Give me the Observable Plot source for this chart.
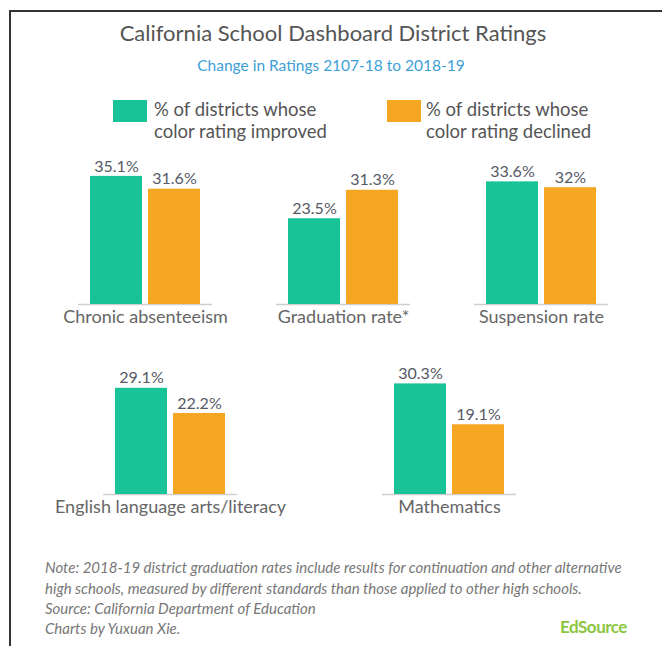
<!DOCTYPE html>
<html>
<head>
<meta charset="utf-8">
<script src="https://cdn.jsdelivr.net/npm/d3@7"></script>
<script src="https://cdn.jsdelivr.net/npm/@observablehq/plot@0.6"></script>
<style>
  html, body { margin: 0; padding: 0; background: #fff; }
  #page { position: relative; width: 662px; height: 646px; overflow: hidden; font-family: Lato, "Open Sans", sans-serif; color: #555; }
  .abs { position: absolute; white-space: nowrap; }
  #border-top { position: absolute; left: 9px; top: 10px; width: 653px; height: 2px; background: #333; }
  #border-left { position: absolute; left: 9px; top: 10px; width: 2px; height: 636px; background: #333; }
  #title { left: 0; width: 666px; top: 21px; text-align: center; font-size: 22px; line-height: 24px; color: #555; }
  #subtitle { left: 0; width: 662px; top: 56px; text-align: center; font-size: 15.5px; line-height: 18px; color: #3d9fd6; }
  .swatch { position: absolute; width: 34px; height: 22px; }
  .legtext { position: absolute; font-size: 18.5px; line-height: 22px; color: #555; white-space: nowrap; }
  .note { left: 45px; font-size: 15px; line-height: 18px; font-style: italic; color: #777; }
  #logo { left: 560px; top: 617px; font-size: 17px; line-height: 20px; font-weight: bold; color: #8cc640; letter-spacing: -0.5px; }
  .row { position: absolute; left: 0; }
</style>
</head>
<body>
<div id="page">
  <div id="border-top"></div>
  <div id="border-left"></div>
  <div id="title" class="abs"></div>
  <div id="subtitle" class="abs"></div>
  <div id="legend"></div>
  <div id="row1" class="row" style="top:150px"></div>
  <div id="row2" class="row" style="top:340px"></div>
  <div id="notes"></div>
  <div id="logo" class="abs"></div>
</div>
<script>
// ---- Data ----
const titleText = "California School Dashboard District Ratings";
const subtitleText = "Change in Ratings 2107-18 to 2018-19";
const seriesKeys = ["improved", "declined"];
const seriesLegend = [
  ["% of districts whose", "color rating improved"],
  ["% of districts whose", "color rating declined"]
];
const seriesColors = ["#17c397", "#f5a623"];

const row1Categories = ["Chronic absenteeism", "Graduation rate*", "Suspension rate"];
const row1Improved = [35.1, 23.5, 33.6];
const row1Declined = [31.6, 31.3, 32];

const row2Categories = ["English language arts/literacy", "Mathematics"];
const row2Improved = [29.1, 30.3];
const row2Declined = [22.2, 19.1];

const noteLines = [
  "Note: 2018-19 district graduation rates include results for continuation and other alternative",
  "high schools, measured by different standards than those applied to other high schools.",
  "Source: California Department of Education",
  "Charts by Yuxuan Xie."
];
const logoText = "EdSource";

// ---- Header ----
document.getElementById("title").textContent = titleText;
document.getElementById("subtitle").textContent = subtitleText;

const legend = document.getElementById("legend");
const legendPos = [{sx: 113, tx: 154}, {sx: 387, tx: 426}];
seriesKeys.forEach((k, i) => {
  const sw = document.createElement("div");
  sw.className = "swatch";
  sw.style.left = legendPos[i].sx + "px";
  sw.style.top = "100px";
  sw.style.background = seriesColors[i];
  legend.appendChild(sw);
  const t = document.createElement("div");
  t.className = "legtext";
  t.style.left = legendPos[i].tx + "px";
  t.style.top = "98px";
  t.innerHTML = seriesLegend[i].join("<br>");
  legend.appendChild(t);
});

// ---- Rows of bars ----
function makeRow(categories, improved, declined, marginLeft, marginRight, fxPadding) {
  const data = [];
  categories.forEach((c, i) => {
    data.push({cat: c, series: "improved", value: improved[i]});
    data.push({cat: c, series: "declined", value: declined[i]});
  });
  return Plot.plot({
    width: 662,
    height: 190,
    marginTop: 8,
    marginBottom: 36,
    marginLeft,
    marginRight,
    style: {fontFamily: "Lato, 'Open Sans', sans-serif", background: "transparent", color: "#555"},
    fx: {domain: categories, paddingInner: fxPadding, paddingOuter: 0, axis: null},
    x: {domain: seriesKeys, paddingInner: 0.11, paddingOuter: 0.207, axis: null},
    y: {domain: [0, 40], axis: null},
    color: {domain: seriesKeys, range: seriesColors},
    marks: [
      Plot.ruleY([0], {stroke: "#cfcfcf", strokeWidth: 1.5}),
      Plot.barY(data, {fx: "cat", x: "series", y: "value", fill: "series"}),
      Plot.text(data, {fx: "cat", x: "series", y: "value", text: d => `${d.value}%`, dy: -10, fontSize: 16, fill: "#555a66"}),
      Plot.text(categories, {fx: d => d, text: d => d, frameAnchor: "bottom", dy: 18, fontSize: 18, fill: "#666"})
    ]
  });
}

document.getElementById("row1").appendChild(
  makeRow(row1Categories, row1Improved, row1Declined, 77, 54, 0.325)
);
document.getElementById("row2").appendChild(
  makeRow(row2Categories, row2Improved, row2Declined, 102, 146, 0.521)
);

// ---- Notes ----
const notes = document.getElementById("notes");
const noteTops = [558, 579, 599, 619];
noteLines.forEach((line, i) => {
  const d = document.createElement("div");
  d.className = "abs note";
  d.style.top = noteTops[i] + "px";
  d.textContent = line;
  notes.appendChild(d);
});
document.getElementById("logo").textContent = logoText;
</script>
</body>
</html>
